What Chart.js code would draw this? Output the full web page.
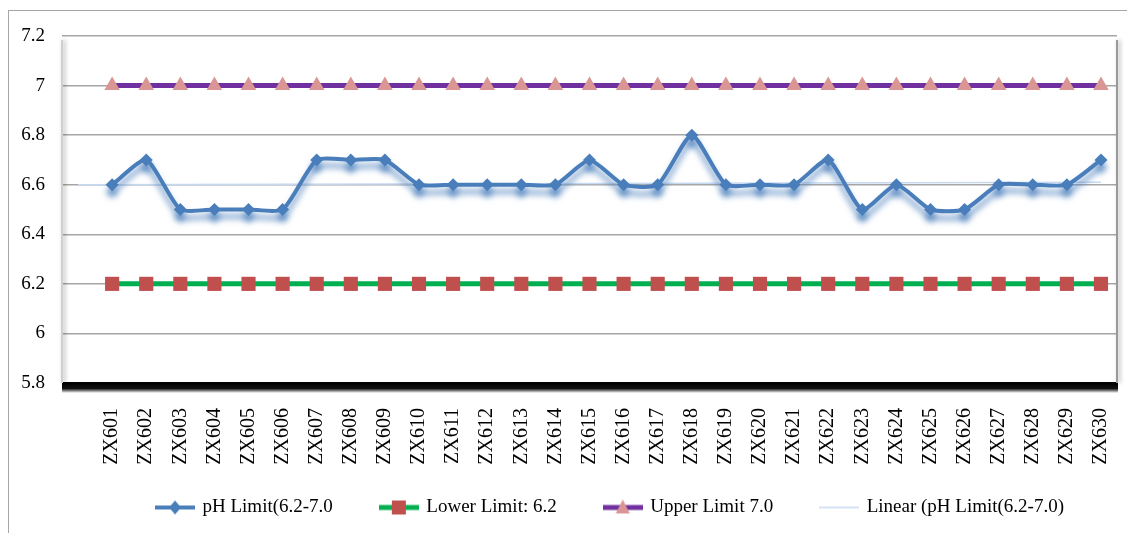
<!DOCTYPE html>
<html>
<head>
<meta charset="utf-8">
<script src="https://cdn.jsdelivr.net/npm/chart.js@4"></script>
<style>
  html, body { margin: 0; padding: 0; background: #fff; }
  #frame { position: absolute; left: 8px; top: 10px; width: 1200px; height: 600px; border: 1px solid #a6a6a6; }
  #wrap { position: absolute; left: 0; top: 0; width: 1127px; height: 533px; }
</style>
</head>
<body>
<div id="frame"></div>
<div id="wrap"><canvas id="myChart"></canvas></div>
<script>
var samples = ['ZX601','ZX602','ZX603','ZX604','ZX605','ZX606','ZX607','ZX608','ZX609','ZX610',
               'ZX611','ZX612','ZX613','ZX614','ZX615','ZX616','ZX617','ZX618','ZX619','ZX620',
               'ZX621','ZX622','ZX623','ZX624','ZX625','ZX626','ZX627','ZX628','ZX629','ZX630'];
var phValues = [6.6, 6.7, 6.5, 6.5, 6.5, 6.5, 6.7, 6.7, 6.7, 6.6,
                6.6, 6.6, 6.6, 6.6, 6.7, 6.6, 6.6, 6.8, 6.6, 6.6,
                6.6, 6.7, 6.5, 6.6, 6.5, 6.5, 6.6, 6.6, 6.6, 6.7];
var lowerLimit = [6.2, 6.2, 6.2, 6.2, 6.2, 6.2, 6.2, 6.2, 6.2, 6.2,
                  6.2, 6.2, 6.2, 6.2, 6.2, 6.2, 6.2, 6.2, 6.2, 6.2,
                  6.2, 6.2, 6.2, 6.2, 6.2, 6.2, 6.2, 6.2, 6.2, 6.2];
var upperLimit = [7.0, 7.0, 7.0, 7.0, 7.0, 7.0, 7.0, 7.0, 7.0, 7.0,
                  7.0, 7.0, 7.0, 7.0, 7.0, 7.0, 7.0, 7.0, 7.0, 7.0,
                  7.0, 7.0, 7.0, 7.0, 7.0, 7.0, 7.0, 7.0, 7.0, 7.0];
// trend line (start / end)
var trendPos = [-1, 29];
var trendValues = [6.60, 6.61];

function toPoints(vals) {
  return vals.map(function (v, i) { return { x: i, y: v }; });
}

// little line + marker pictures for the legend
function legendIcon(lineColor, lineWidth, shape, fill) {
  var c = document.createElement('canvas');
  c.width = 40; c.height = 20;
  var g = c.getContext('2d');
  g.strokeStyle = lineColor; g.lineWidth = lineWidth;
  g.beginPath(); g.moveTo(0, 10); g.lineTo(40, 10); g.stroke();
  g.fillStyle = fill;
  g.beginPath();
  if (shape === 'diamond') { g.moveTo(20, 3); g.lineTo(26, 10); g.lineTo(20, 17); g.lineTo(14, 10); }
  if (shape === 'square') { g.rect(13, 3, 14, 14); }
  if (shape === 'triangle') { g.moveTo(20, 2); g.lineTo(27, 16); g.lineTo(13, 16); }
  g.closePath();
  if (shape) g.fill();
  return c;
}
var icons = [
  legendIcon('#4a7ebb', 4, 'diamond', '#4a7ebb'),
  legendIcon('#00b050', 5, 'square', '#c0504d'),
  legendIcon('#7030a0', 5, 'triangle', '#d99694'),
  legendIcon('#c6d9f1', 1.5, null, null)
];

var decor = {
  id: 'decor',
  afterLayout: function (chart) {
    // legend sits a bit right of centre and low in the reference
    var lg = chart.legend;
    lg.left += 52; lg.right += 52;
    lg.top = 450; lg.bottom = 533;
    lg.height = lg.bottom - lg.top;
  },
  beforeDatasetsDraw: function (chart) {
    var ctx = chart.ctx, a = chart.chartArea;
    ctx.save();
    var grd = ctx.createLinearGradient(0, a.bottom, 0, a.bottom + 10);
    grd.addColorStop(0, '#000');
    grd.addColorStop(0.55, '#111');
    grd.addColorStop(1, 'rgba(0,0,0,0)');
    ctx.fillStyle = grd;
    ctx.fillRect(a.left, a.bottom - 1, a.right - a.left + 1, 11);
    ctx.lineWidth = 2;
    ctx.shadowColor = 'rgba(0,0,0,0.35)'; ctx.shadowBlur = 4; ctx.shadowOffsetX = 2;
    ctx.strokeStyle = '#9a9a9a';
    ctx.beginPath(); ctx.moveTo(a.right, a.top + 4); ctx.lineTo(a.right, a.bottom); ctx.stroke();
    ctx.strokeStyle = '#cfcfcf';
    ctx.beginPath(); ctx.moveTo(a.left, a.top + 4); ctx.lineTo(a.left, a.bottom); ctx.stroke();
    ctx.restore();
  },
  beforeDatasetDraw: function (chart, args) {
    if (args.index === 0) {
      var ctx = chart.ctx;
      ctx.save();
      ctx.shadowColor = 'rgba(74,126,187,0.8)';
      ctx.shadowBlur = 6;
      ctx.shadowOffsetY = 7;
    }
  },
  afterDatasetDraw: function (chart, args) {
    if (args.index === 0) chart.ctx.restore();
  }
};

var serif = '"Liberation Serif", "Times New Roman", serif';

var ctx = document.getElementById('myChart').getContext('2d');
var myChart = new Chart(ctx, {
  type: 'line',
  data: {
    datasets: [{
      label: 'pH Limit(6.2-7.0',
      data: toPoints(phValues),
      borderColor: '#4a7ebb',
      backgroundColor: '#4a7ebb',
      borderWidth: 4,
      tension: 0.2,
      pointStyle: 'rectRot',
      pointRadius: 6.5,
      pointBorderWidth: 0,
      pointBackgroundColor: '#4a7ebb'
    }, {
      label: 'Lower Limit: 6.2',
      data: toPoints(lowerLimit),
      borderColor: '#00b050',
      backgroundColor: '#c0504d',
      borderWidth: 5,
      pointStyle: 'rect',
      pointRadius: 10,
      pointBorderWidth: 0,
      pointBackgroundColor: '#c0504d'
    }, {
      label: 'Upper Limit 7.0',
      data: toPoints(upperLimit),
      borderColor: '#7030a0',
      backgroundColor: '#d99694',
      borderWidth: 5,
      pointStyle: 'triangle',
      pointRadius: 9,
      pointBorderWidth: 0,
      pointBackgroundColor: '#d99694'
    }, {
      label: 'Linear (pH Limit(6.2-7.0)',
      data: trendPos.map(function (p, i) { return { x: p, y: trendValues[i] }; }),
      borderColor: '#c6d9f1',
      borderWidth: 1.5,
      pointRadius: 0
    }]
  },
  options: {
    responsive: true,
    maintainAspectRatio: false,
    animation: false,
    layout: { padding: { top: 36, right: 10, bottom: 10, left: 0 } },
    scales: {
      x: {
        type: 'linear',
        min: -1.47,
        max: 29.47,
        grid: { display: false },
        border: { display: false },
        afterFit: function (s) { s.height = 100; s.paddingLeft = 0; s.paddingRight = 0; },
        ticks: {
          stepSize: 1,
          includeBounds: false,
          autoSkip: false,
          minRotation: 90,
          maxRotation: 90,
          padding: 17,
          color: '#000',
          font: { family: serif, size: 20 },
          callback: function (v) {
            return (Number.isInteger(v) && v >= 0 && v < samples.length) ? samples[v] : '';
          }
        }
      },
      y: {
        min: 5.8,
        max: 7.2,
        grid: { color: '#a6a6a6', lineWidth: 1.5, drawTicks: false },
        border: { display: false },
        afterFit: function (s) { s.width = 62; },
        ticks: {
          stepSize: 0.2,
          padding: 17,
          color: '#000',
          font: { family: serif, size: 19 },
          callback: function (v) { return String(Number(v.toFixed(1))); }
        }
      }
    },
    plugins: {
      tooltip: { enabled: false },
      legend: {
        position: 'bottom',
        maxHeight: 40,
        labels: {
          usePointStyle: true,
          pointStyleWidth: 36,
          boxHeight: 19,
          padding: 48,
          color: '#000',
          font: { family: serif, size: 19 },
          generateLabels: function (chart) {
            return chart.data.datasets.map(function (ds, i) {
              return { text: ds.label, pointStyle: icons[i], datasetIndex: i, hidden: false,
                       lineWidth: 0, strokeStyle: 'transparent', fillStyle: 'transparent' };
            });
          }
        }
      }
    }
  },
  plugins: [decor]
});
</script>
</body>
</html>
